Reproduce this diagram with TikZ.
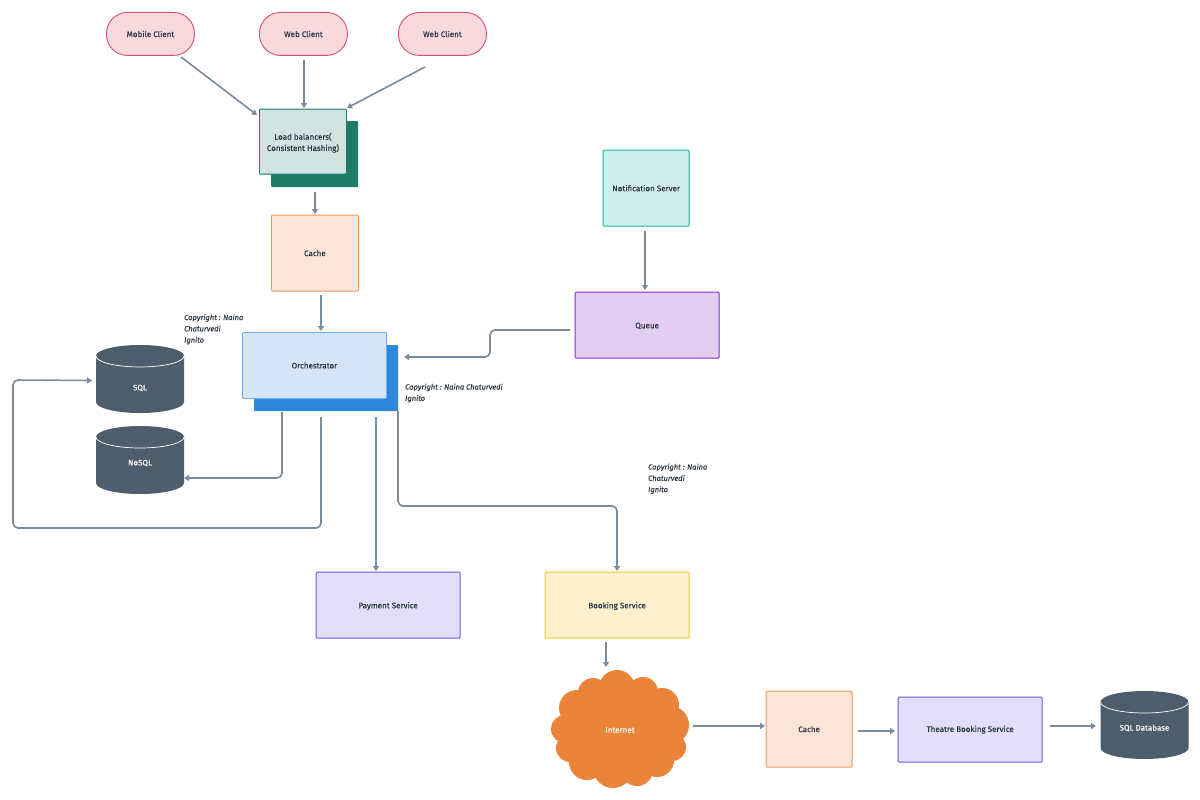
\documentclass[tikz,border=0pt]{standalone}
\usepackage{fontspec}
\setmainfont[FakeBold=0.2]{Fira Sans}
\usetikzlibrary{arrows.meta}
\definecolor{edgec}{HTML}{7A8B9C}
\definecolor{inkc}{HTML}{2A3542}
\definecolor{dbc}{HTML}{4D5D6C}
\definecolor{cloudc}{HTML}{E9843A}
\definecolor{pinkf}{HTML}{F8D9DE}
\definecolor{pinks}{HTML}{D9506E}
\definecolor{tealf}{HTML}{D0E3E0}
\definecolor{teals}{HTML}{1F7A68}
\definecolor{cachef}{HTML}{FAE5D8}
\definecolor{caches}{HTML}{EE9A5E}
\definecolor{notif}{HTML}{D1F0EC}
\definecolor{notis}{HTML}{1DB0A0}
\definecolor{queuef}{HTML}{E3CEF3}
\definecolor{queues}{HTML}{8A2BD0}
\definecolor{orchf}{HTML}{D5E5F5}
\definecolor{orchs}{HTML}{6DB0F0}
\definecolor{orchb}{HTML}{2D88DC}
\definecolor{payf}{HTML}{E2DEFB}
\definecolor{pays}{HTML}{6A5AE0}
\definecolor{bookf}{HTML}{FDF1D0}
\definecolor{books}{HTML}{F5C83C}
\newcommand{\lblfont}{\fontsize{8}{11.3}\selectfont}
% #1 = centre x, #2 = top y, #3 = width, #4 = height, #5 = name, #6 = label y, #7 = label
\newcommand{\dbshape}[7]{%
  \fill[dbc] (#1-#3/2,#2+11) -- (#1-#3/2,#2+#4-11)
     arc[start angle=180,end angle=0,x radius=#3/2,y radius=11]
     -- (#1+#3/2,#2+11) arc[start angle=0,end angle=-180,x radius=#3/2,y radius=11] -- cycle;
  \draw[white,line width=0.7pt] (#1-#3/2,#2+11)
     arc[start angle=180,end angle=0,x radius=#3/2,y radius=11];
  \node[text=white] (#5) at (#1,#6) {#7};
}
\tikzset{
  x=1pt,y=-1pt,
  every node/.style={font=\lblfont,text=inkc,align=center,inner sep=0pt},
  clientpill/.style={draw=pinks,fill=pinkf,line width=0.9pt,rounded corners=21pt,anchor=north west,minimum width=88pt,minimum height=43pt},
  box/.style n args={4}{draw=#2,fill=#1,line width=0.9pt,rounded corners=1pt,anchor=north west,minimum width=#3,minimum height=#4},
  backbox/.style n args={3}{fill=#1,rounded corners=1pt,anchor=north west,minimum width=#2,minimum height=#3},
  lowtext/.style={text height=6.3pt,text depth=0pt},
  flow/.style={draw=edgec,line width=1.6pt,rounded corners=5pt,-{Triangle[length=5pt,width=6pt]}},
  note/.style={anchor=north west,align=left,font=\fontsize{7.5}{11.3}\selectfont\itshape}
}
\begin{document}
\begin{tikzpicture}
\useasboundingbox (0,0) rectangle (1200,800);
\fill[white] (0,0) rectangle (1200,800);

% clients
\node[clientpill] (mobile) at (106,12) {Mobile Client};
\node[clientpill] (web1) at (259,12) {Web Client};
\node[clientpill] (web2) at (398,12) {Web Client};

% load balancers
\node[backbox={teals}{87pt}{66pt}] (lbback) at (271,121) {};
\node[box={tealf}{teals}{87pt}{65pt}] (lb) at (259,108.7) {\rule{0pt}{9pt}Load balancers(\\Consistent Hashing)};

\node[box={cachef}{caches}{87pt}{76pt}] (cache) at (271,214.7) {Cache};
\node[box={notif}{notis}{86pt}{76pt}] (noti) at (602.7,149.7) {Notification Server};
\node[box={queuef}{queues}{144pt}{66pt},lowtext] (queue) at (574.7,291.7) {Queue};

% orchestrator
\node[backbox={orchb}{144pt}{66pt}] (orchback) at (254,345) {};
\node[box={orchf}{orchs}{144pt}{66pt}] (orch) at (242,332) {Orchestrator};

\node[box={payf}{pays}{144pt}{66pt},lowtext] (pay) at (315.7,571.7) {Payment Service};
\node[box={bookf}{books}{144pt}{66pt},lowtext] (book) at (544.7,571.7) {Booking Service};
\node[box={cachef}{caches}{86pt}{76pt}] (cache2) at (765.7,690.7) {Cache};
\node[box={payf}{pays}{144pt}{65pt}] (theatre) at (897.7,696.7) {Theatre Booking Service};

% databases
\dbshape{140}{345}{88}{68}{sql}{388}{SQL}
\dbshape{140}{426}{88}{68}{nosql}{463}{NoSQL}
\dbshape{1144.5}{691}{88}{68}{sqldb}{728}{SQL Database}

% internet cloud
\fill[cloudc]
  (620,730) ellipse (58 and 48)
  (617,688) circle (18) (593,693) circle (15) (643,692) circle (15)
  (662,705) circle (17) (577,708) circle (18) (670,725) circle (19)
  (565,729) circle (14) (570,748) circle (14) (672,747) circle (14)
  (587,762) circle (18) (657,760) circle (17) (613,768) circle (20) (637,770) circle (16);
\node[text=white] (net) at (620,730) {Internet};

% notes
\node[note] (n1) at (184,314) {Copyright : Naina\\Chaturvedi\\Ignito};
\node[note] (n2) at (405,383.5) {Copyright : Naina Chaturvedi\\Ignito};
\node[note] (n3) at (648,463.5) {Copyright : Naina\\Chaturvedi\\Ignito};

% free ends of connectors
\coordinate (a1) at (181,57);   \coordinate (a2) at (257,115);
\coordinate (b1) at (304,60);   \coordinate (b2) at (304,108);
\coordinate (c1) at (425,67);   \coordinate (c2) at (347,108);
\coordinate (d1) at (315,192);  \coordinate (d2) at (315,214);
\coordinate (e1) at (321,295);  \coordinate (e2) at (321,331);
\coordinate (f1) at (645,231);  \coordinate (f2) at (645,290);
\coordinate (g1) at (570,330);  \coordinate (g2) at (404,357);
\coordinate (h1) at (282,412);  \coordinate (h2) at (184,478);
\coordinate (i1) at (321,417);  \coordinate (i2) at (92,380.5);
\coordinate (j1) at (376,417);  \coordinate (j2) at (376,571);
\coordinate (k1) at (398,411);  \coordinate (k2) at (617,571);
\coordinate (l1) at (606,642);  \coordinate (l2) at (606,667);
\coordinate (m1) at (693,726);  \coordinate (m2) at (765,726);
\coordinate (o1) at (858,731);  \coordinate (o2) at (895,731);
\coordinate (p1) at (1050,726); \coordinate (p2) at (1096,726);

% connectors
\draw[flow] (a1) -- (a2);
\draw[flow] (b1) -- (b2);
\draw[flow] (c1) -- (c2);
\draw[flow] (d1) -- (d2);
\draw[flow] (e1) -- (e2);
\draw[flow] (f1) -- (f2);
\draw[flow] (g1) -- (490,330) -- (490,357) -- (g2);
\draw[flow] (h1) -- (282,478) -- (h2);
\draw[flow] (i1) -- (321,528) -- (13,528) -- (13,380) -- (i2);
\draw[flow] (j1) -- (j2);
\draw[flow] (k1) -- (398,506) -- (617,506) -- (k2);
\draw[flow] (l1) -- (l2);
\draw[flow] (m1) -- (m2);
\draw[flow] (o1) -- (o2);
\draw[flow] (p1) -- (p2);
\end{tikzpicture}
\end{document}
